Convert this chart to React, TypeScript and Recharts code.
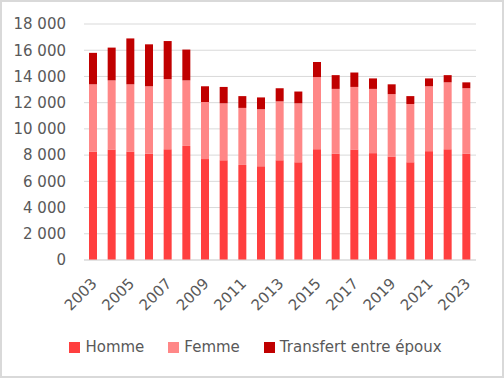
import React from "react"
import { BarChart, Bar, XAxis, YAxis, CartesianGrid, Legend } from "recharts"

const years = [
  "2003", "2004", "2005", "2006", "2007", "2008", "2009", "2010", "2011", "2012", "2013",
  "2014", "2015", "2016", "2017", "2018", "2019", "2020", "2021", "2022", "2023",
]
const homme = [8250, 8400, 8250, 8100, 8450, 8700, 7700, 7600, 7250, 7150, 7600, 7450, 8450, 8100, 8400, 8150, 7900, 7450, 8300, 8450, 8100]
const femme = [5150, 5300, 5150, 5150, 5350, 5000, 4350, 4350, 4350, 4350, 4500, 4500, 5500, 4950, 4800, 4900, 4750, 4450, 4950, 5100, 5000]
const transfert = [2400, 2500, 3500, 3200, 2900, 2350, 1200, 1250, 900, 900, 1000, 900, 1150, 1050, 1100, 800, 750, 600, 600, 550, 450]
const yTicks = [0, 2000, 4000, 6000, 8000, 10000, 12000, 14000, 16000, 18000]

const data = years.map((year, i) => ({
  year,
  homme: homme[i],
  femme: femme[i],
  transfert: transfert[i],
}))

const series = [
  { key: "homme", name: "Homme", color: "#ff3f3f" },
  { key: "femme", name: "Femme", color: "#ff8787" },
  { key: "transfert", name: "Transfert entre époux", color: "#c00000" },
]

const FONT = "'DejaVu Sans', sans-serif"
const TEXT = "#595959"

const fmt = (v: number) => String(v).replace(/\B(?=(\d{3})+(?!\d))/g, " ")

function YearTick(props: any) {
  const { x, payload } = props
  const ax = x + 1
  const ay = 281
  return (
    <text
      x={ax}
      y={ay}
      transform={`rotate(-45 ${ax} ${ay})`}
      textAnchor="end"
      dominantBaseline="central"
      fill={TEXT}
      fontSize={15}
      fontFamily={FONT}
    >
      {payload.value}
    </text>
  )
}

function LegendBox() {
  return (
    <div
      style={{
        display: "flex",
        justifyContent: "center",
        alignItems: "center",
        height: 30,
        fontFamily: FONT,
        fontSize: 15,
        color: TEXT,
        paddingLeft: 35,
      }}
    >
      {series.map((s, i) => (
        <div key={s.key} style={{ display: "flex", alignItems: "center", marginLeft: i ? 24 : 0 }}>
          <div style={{ width: 11, height: 11, background: s.color, marginRight: 5 }} />
          <span>{s.name}</span>
        </div>
      ))}
    </div>
  )
}

export default function App() {
  return (
    <div style={{ position: "absolute", left: 0, top: 0, width: 504, height: 378, background: "#fff" }}>
      <BarChart
        width={504}
        height={378}
        data={data}
        margin={{ top: 24, right: 28, bottom: 16, left: 0 }}
        barSize={8}
      >
        <CartesianGrid vertical={false} stroke="#d9d9d9" strokeWidth={1} />
        <XAxis
          dataKey="year"
          interval={1}
          tickLine={false}
          axisLine={{ stroke: "#d9d9d9" }}
          height={72}
          tick={<YearTick />}
        />
        <YAxis
          width={84}
          domain={[0, 18000]}
          ticks={yTicks}
          tickFormatter={fmt}
          tickLine={false}
          axisLine={false}
          tickMargin={12}
          tick={{ fill: TEXT, fontSize: 15, fontFamily: FONT }}
        />
        <Legend verticalAlign="bottom" height={30} content={() => <LegendBox />} />
        {series.map((s) => (
          <Bar key={s.key} dataKey={s.key} name={s.name} stackId="a" fill={s.color} isAnimationActive={false} />
        ))}
      </BarChart>
      <div
        style={{
          position: "absolute",
          inset: 0,
          border: "2px solid #d9d9d9",
          boxSizing: "border-box",
          pointerEvents: "none",
        }}
      />
    </div>
  )
}
